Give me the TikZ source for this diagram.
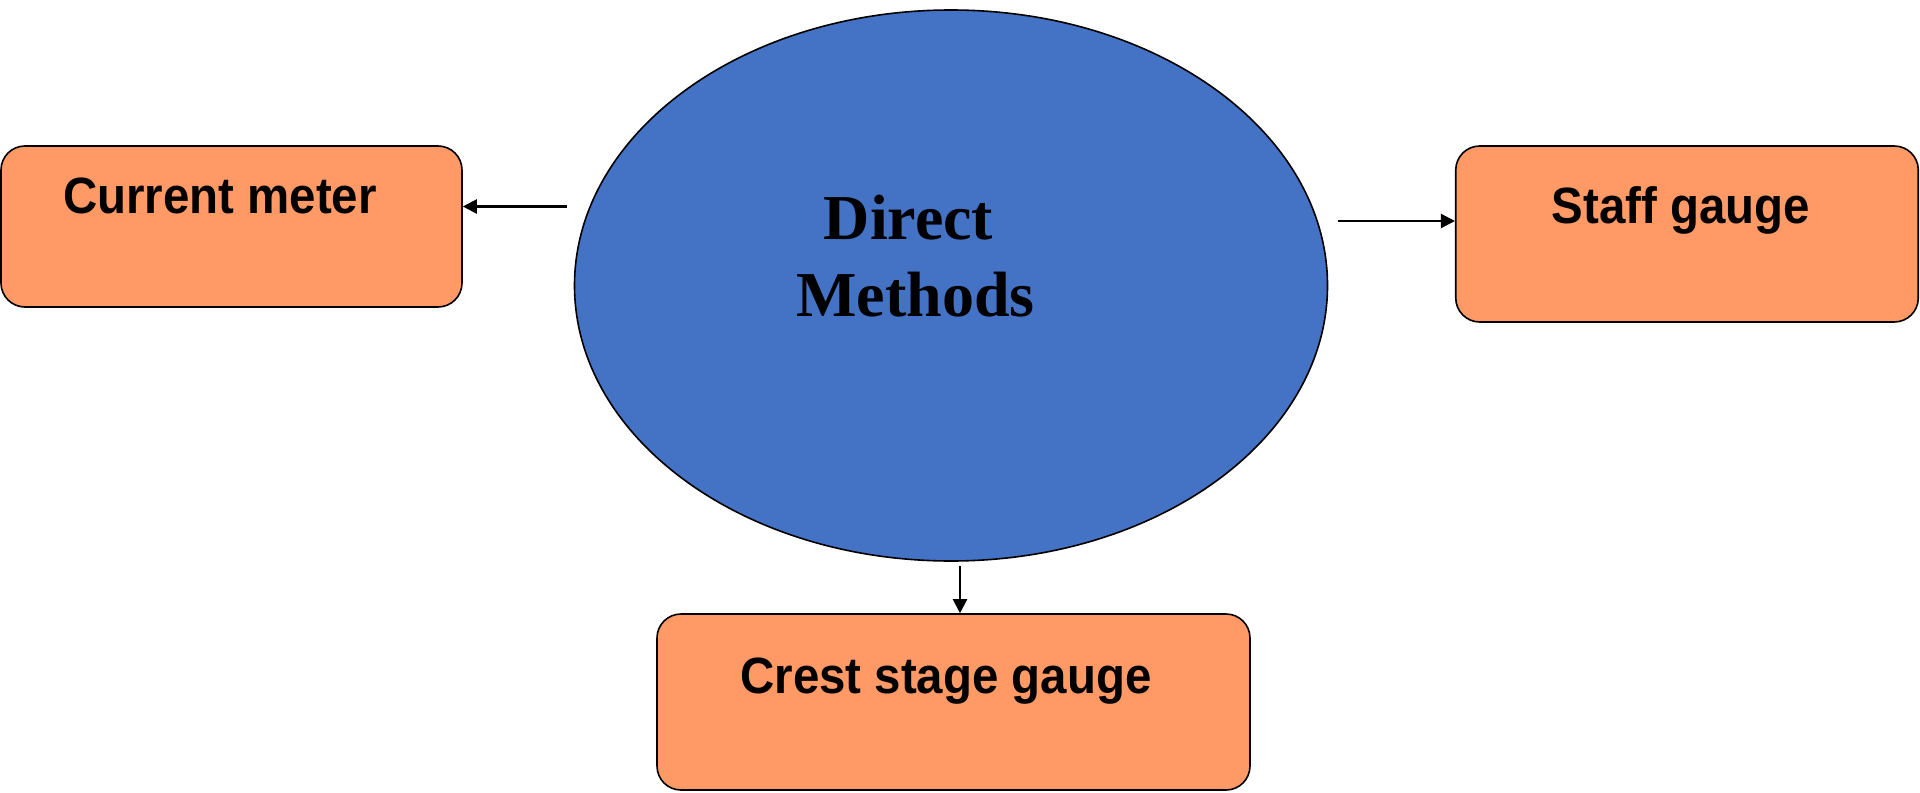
\documentclass[tikz,border=0pt]{standalone}
\usepackage{fontspec}
\usetikzlibrary{shapes.geometric,arrows.meta}
\newfontfamily\boxfont[FakeStretch=0.93]{Liberation Sans}
\newfontfamily\ovalfont{Liberation Serif}
\definecolor{ovalblue}{HTML}{4472C4}
\definecolor{boxorange}{HTML}{FF9A66}
\tikzset{
  methodbox/.style={draw=black, line width=0.8pt, fill=boxorange, rounded corners=12pt,
    rectangle, inner sep=0pt},
  boxlabel/.style={anchor=base, inner sep=0pt, font=\boxfont\bfseries\fontsize{25.5}{30}\selectfont},
  ovallabel/.style={anchor=base, inner sep=0pt, font=\ovalfont\bfseries\fontsize{32}{38}\selectfont},
  link/.style={draw=black, line width=1.1pt, -{Triangle[length=7pt,width=7pt]}}
}
\begin{document}
\begin{tikzpicture}[x=0.5pt,y=-0.5pt]
\useasboundingbox (0,0) rectangle (1920,792);

% central oval
\node[ellipse, draw=black, line width=0.8pt, fill=ovalblue, minimum width=376.5pt,
  minimum height=275.5pt, inner sep=0pt] (dm) at (951,285.5) {};
\node[ovallabel] (dmA) at (908.5,239) {Direct};
\node[ovallabel] (dmB) at (915.5,316) {Methods};

% method boxes
\node[methodbox, minimum width=230.5pt, minimum height=80.5pt] (cm) at (231.5,226.5) {};
\node[boxlabel] (cmtext) at (220,213) {Current meter};

\node[methodbox, minimum width=231.25pt, minimum height=88pt] (sg) at (1687,234) {};
\node[boxlabel] (sgtext) at (1681,223) {Staff gauge};

\node[methodbox, minimum width=296.5pt, minimum height=88pt] (csg) at (953.5,702) {};
\node[boxlabel] (csgtext) at (946,693) {Crest stage gauge};

% connectors
\coordinate (lstart) at (567,206.5);
\coordinate (rstart) at (1338,221);
\coordinate (bstart) at (960,566);
\draw[link] (lstart) -- (cm.east |- lstart);
\draw[link] (rstart) -- (sg.west |- rstart);
\draw[link] (bstart) -- (bstart |- csg.north);
\end{tikzpicture}
\end{document}
